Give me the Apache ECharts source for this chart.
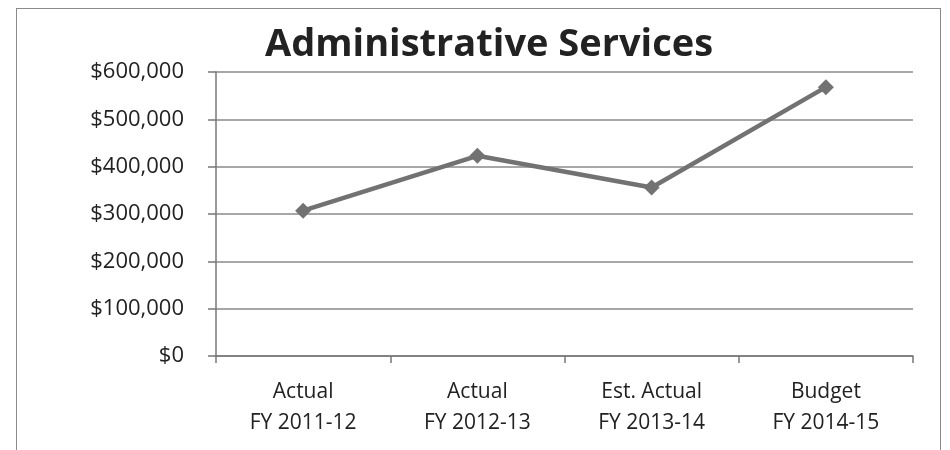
<!DOCTYPE html>
<html>
<head>
<meta charset="utf-8">
<script src="https://cdn.jsdelivr.net/npm/echarts@6/dist/echarts.min.js"></script>
<style>
  html, body { margin: 0; padding: 0; background: #fff; }
  #frame { position: absolute; left: 16px; top: 8px; width: 925px; height: 460px; border: 1.5px solid #8a8a8a; box-sizing: border-box; }
  #chart { position: absolute; left: 0; top: 0; width: 950px; height: 450px; }
</style>
</head>
<body>
<div id="frame"></div>
<div id="chart"></div>
<script>
// Budget history for the department
const categories = ['Actual\nFY 2011-12', 'Actual\nFY 2012-13', 'Est. Actual\nFY 2013-14', 'Budget\nFY 2014-15'];
const spending = [307000, 423000, 356000, 568000];
const yTicks = [0, 100000, 200000, 300000, 400000, 500000, 600000];

const fontFamily = '"Open Sans", "Noto Sans", sans-serif';
const textColor = '#222';

const chart = echarts.init(document.getElementById('chart'), null, { renderer: 'canvas' });
chart.setOption({
  animation: false,
  title: {
    text: 'Administrative Services',
    left: 484,
    top: 21,
    textAlign: 'center',
    textStyle: { fontFamily, fontSize: 38, fontWeight: 'bold', color: textColor }
  },
  grid: { left: 216, right: 37, top: 72, bottom: 94, containLabel: false },
  xAxis: {
    type: 'category',
    data: categories,
    boundaryGap: true,
    axisLine: { lineStyle: { color: '#777', width: 1.5 } },
    axisTick: { show: true, length: 7, inside: false, lineStyle: { color: '#777', width: 1.5 } },
    axisLabel: { fontFamily, fontSize: 21, color: textColor, lineHeight: 31, margin: 21 }
  },
  yAxis: {
    type: 'value',
    min: yTicks[0],
    max: yTicks[yTicks.length - 1],
    interval: yTicks[1] - yTicks[0],
    axisLine: { show: true, lineStyle: { color: '#777', width: 1.5 } },
    axisTick: { show: true, length: 8, lineStyle: { color: '#777', width: 1.5 } },
    splitLine: { lineStyle: { color: '#8a8a8a', width: 1.5 } },
    axisLabel: {
      fontFamily, fontSize: 22, color: textColor, margin: 32,
      formatter: v => '$' + v.toLocaleString('en-US')
    }
  },
  series: [{
    type: 'line',
    data: spending,
    symbol: 'diamond',
    symbolSize: 16,
    lineStyle: { color: '#727272', width: 4.5 },
    itemStyle: { color: '#727272' }
  }]
});
</script>
</body>
</html>
